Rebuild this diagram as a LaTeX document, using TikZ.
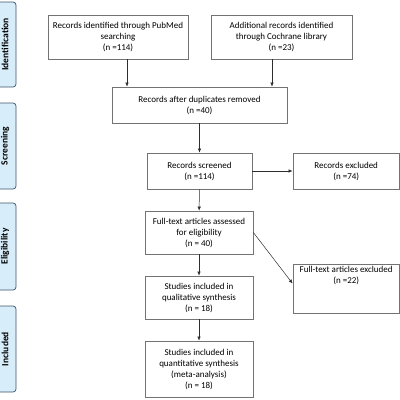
\documentclass[tikz,border=0pt]{standalone}
\usepackage{fontspec}
\setmainfont{Carlito}
\usepackage{tikz}
\usetikzlibrary{arrows.meta,positioning}
\definecolor{tabfill}{RGB}{216,237,250}
\definecolor{tabline}{RGB}{62,84,108}
\definecolor{boxline}{RGB}{115,115,115}
\definecolor{arrline}{RGB}{45,45,45}

\begin{document}
\begin{tikzpicture}[x=1pt, y=-1pt,
  box/.style={draw=boxline, line width=0.75pt, fill=white, align=center,
    inner sep=1pt, font=\fontsize{9}{11}\selectfont},
  phase/.style={draw=tabline, line width=0.7pt, fill=tabfill, rounded corners=3pt,
    rotate=90, minimum height=22, inner sep=0pt, font=\fontsize{9.5}{10}\selectfont\bfseries},
  arr/.style={draw=arrline, line width=0.5pt, -{Latex[length=4pt,width=3.5pt]}}]
\useasboundingbox (0,0) rectangle (400,400);
\clip (0,0) rectangle (400,400);
% phase tabs
\node[phase, minimum width=85] (idtab) at (5,44.5) {Identification};
\node[phase, minimum width=86] (scrtab) at (5,146) {Screening};
\node[phase, minimum width=87] (eligtab) at (5,246.5) {Eligibility};
\node[phase, minimum width=86] (inctab) at (5,349) {Included};
% boxes
\node[box, minimum width=140, minimum height=44] (pubmed) at (118,37) {Records identified through PubMed\\searching\\(n =114)};
\node[box, minimum width=141, minimum height=44] (cochrane) at (281.5,37) {Additional records identified\\through Cochrane library\\(n =23)};
\node[box, minimum width=175, minimum height=36] (dupl) at (199.5,105) {Records after duplicates removed\\(n =40)};
\node[box, minimum width=105, minimum height=36] (screened) at (199.5,171) {Records screened\\(n =114)};
\node[box, minimum width=106.5, minimum height=36] (recexcl) at (346.2,171) {Records excluded\\(n =74)};
\node[box, minimum width=108, minimum height=43] (assessed) at (199,232.5) {Full-text articles assessed\\for eligibility\\(n = 40)};
\node[box, minimum width=106.5, minimum height=49] (ftexcl) at (346.2,288.5) {\parbox[t][44pt][t]{104pt}{\centering Full-text articles excluded\\(n =22)}};
\node[box, minimum width=108, minimum height=43] (qualit) at (199,297.5) {Studies included in\\qualitative synthesis\\(n = 18)};
\node[box, minimum width=108, minimum height=56] (quantit) at (199,369) {Studies included in\\quantitative synthesis\\(meta-analysis)\\(n = 18)};
% arrows
\draw[arr] ([xshift=9pt]pubmed.south) -- ([xshift=9pt]pubmed.south |- dupl.north);
\draw[arr] ([xshift=-9.5pt]cochrane.south) -- ([xshift=-9.5pt]cochrane.south |- dupl.north);
\draw[arr] (dupl) -- (screened);
\draw[arr] (screened) -- (recexcl);
\draw[arr] (screened) -- (assessed);
\draw[arr] (assessed.east) -- ([yshift=5pt]ftexcl.west);
\draw[arr] (assessed) -- (qualit);
\draw[arr] (qualit) -- (quantit);
\end{tikzpicture}
\end{document}
